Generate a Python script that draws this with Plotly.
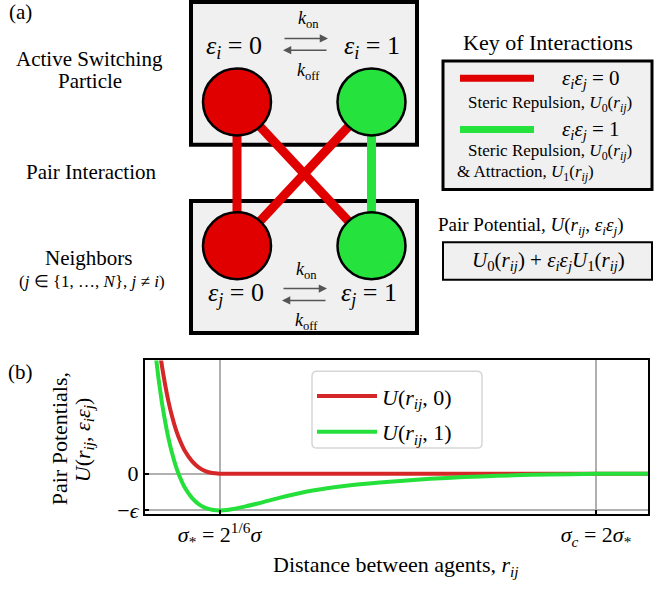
import plotly.graph_objects as go

# ---------------- data ----------------
# r in units of sigma; sigma_* = 2^(1/6) sigma, sigma_c = 2 sigma_*
sig_star = 1.1225
sig_c = 2.245
x_range = [0.9, 2.4]
y_range = [-1.1, 3.08]

r_red = [0.93, 0.94, 0.95, 0.96, 0.97, 0.98, 0.99, 1.00, 1.02, 1.04, 1.06, 1.08, 1.10, 1.1225, 1.3, 1.6, 2.0, 2.4]
u_red = [4.37, 3.61, 2.96, 2.42, 1.96, 1.58, 1.26, 1.00, 0.60, 0.34, 0.17, 0.068, 0.016, 0.0, 0.0, 0.0, 0.0, 0.0]

r_green = [0.93, 0.94, 0.95, 0.96, 0.97, 0.98, 0.99, 1.00, 1.02, 1.04, 1.06, 1.08, 1.10, 1.1225,
           1.15, 1.2, 1.25, 1.3, 1.4, 1.5, 1.6, 1.7, 1.8, 1.9, 2.0, 2.1, 2.245, 2.3, 2.4]
u_green = [3.37, 2.61, 1.96, 1.42, 0.96, 0.58, 0.26, 0.0, -0.40, -0.66, -0.83, -0.93, -0.98, -1.0,
           -0.98, -0.89, -0.78, -0.66, -0.46, -0.33, -0.24, -0.17, -0.115, -0.075, -0.045, -0.022, -0.005, 0.0, 0.0]

x_tickvals = [sig_star, sig_c]
x_ticktext = ["<i>σ</i><sub>*</sub> = 2<sup>1/6</sup><i>σ</i>", "<i>σ<sub>c</sub></i> = 2<i>σ</i><sub>*</sub>"]
y_tickvals = [-1, 0]
y_ticktext = ["−<i>ϵ</i>", "0"]

series_names = ["<i>U</i>(<i>r<sub>ij</sub></i>, 0)", "<i>U</i>(<i>r<sub>ij</sub></i>, 1)"]

# ---------------- styles ----------------
W, H = 659, 594
FONT = "Liberation Serif"
RED_D = "#e00000"
GREEN_D = "#26e23c"
RED_P = "#d62728"
GREEN_P = "#25e03a"
BOXFILL = "#f0f0f0"


def px(x):
    return x / W


def py(y):
    return 1 - y / H


fig = go.Figure()
fig.add_trace(go.Scatter(x=r_red, y=u_red, mode="lines", name=series_names[0],
                         line=dict(color=RED_P, width=4, shape="spline", smoothing=0.6),
                         legendgroup="a"))
fig.add_trace(go.Scatter(x=r_green, y=u_green, mode="lines", name=series_names[1],
                         line=dict(color=GREEN_P, width=4, shape="spline", smoothing=0.6),
                         legendgroup="b"))

shapes = []
annotations = []


def rect(x0, y0, x1, y1, lw, fill=BOXFILL, color="black"):
    shapes.append(dict(type="rect", xref="paper", yref="paper", x0=px(x0), x1=px(x1),
                       y0=py(y1), y1=py(y0), line=dict(color=color, width=lw), fillcolor=fill))


def seg(x0, y0, x1, y1, color, lw):
    shapes.append(dict(type="line", xref="paper", yref="paper", x0=px(x0), x1=px(x1),
                       y0=py(y0), y1=py(y1), line=dict(color=color, width=lw)))


def circ(cx, cy, r, fill):
    shapes.append(dict(type="circle", xref="paper", yref="paper", x0=px(cx - r), x1=px(cx + r),
                       y0=py(cy + r), y1=py(cy - r), line=dict(color="black", width=2.5),
                       fillcolor=fill))


def txt(x, y, s, size, xanchor="center", angle=0):
    annotations.append(dict(x=px(x), y=py(y), xref="paper", yref="paper", text=s, showarrow=False,
                            xanchor=xanchor, yanchor="middle", textangle=angle,
                            font=dict(family=FONT, size=size, color="black")))


def arrow(xh, yh, xt, yt):
    annotations.append(dict(x=px(xh), y=py(yh), xref="paper", yref="paper", ax=xt - xh, ay=yt - yh,
                            text="", showarrow=True, arrowhead=2, arrowsize=1.1, arrowwidth=1.5,
                            arrowcolor="#555555"))


# ----- panel (a) -----
rect(191, 2, 417, 147, 4)
rect(191, 204, 417, 338, 4)

cxL, cxR, cyT, cyB = 237, 371.5, 103.5, 249.5
seg(cxL, cyT, cxL, cyB, RED_D, 9)
seg(cxR, cyT, cxR, cyB, GREEN_D, 9)
seg(cxL, cyT, cxR, cyB, RED_D, 9)
seg(cxR, cyT, cxL, cyB, RED_D, 9)
circ(cxL, cyT, 34, RED_D)
circ(cxR, cyT, 34, GREEN_D)
circ(cxL, cyB, 34, RED_D)
circ(cxR, cyB, 34, GREEN_D)

txt(20, 12, "(a)", 21)
txt(90, 60, "Active Switching", 21)
txt(90, 82, "Particle", 21)
txt(91, 175, "Pair Interaction", 21)
txt(89, 262, "Neighbors", 21)
txt(92, 286, "(<i>j</i> ∈ {1, …, <i>N</i>}, <i>j</i> ≠ <i>i</i>)", 17)

txt(234, 48, "<i>ε<sub>i</sub></i> = 0", 26)
txt(372, 48, "<i>ε<sub>i</sub></i> = 1", 26)
arrow(328, 39, 283, 39)
arrow(283, 51, 328, 51)
txt(308, 20, "<i>k</i><sub>on</sub>", 18)
txt(308, 73, "<i>k</i><sub>off</sub>", 18)

txt(236, 299, "<i>ε<sub>j</sub></i> = 0", 26)
txt(369, 299, "<i>ε<sub>j</sub></i> = 1", 26)
arrow(327, 293, 282, 293)
arrow(282, 305, 327, 305)
txt(306, 275, "<i>k</i><sub>on</sub>", 18)
txt(306, 326, "<i>k</i><sub>off</sub>", 18)

txt(548, 43, "Key of Interactions", 22)
rect(443, 62, 652, 192.5, 3)
seg(460, 79.5, 534, 79.5, RED_D, 7)
seg(460, 131.5, 534, 131.5, GREEN_D, 7)
txt(591, 80, "<i>ε<sub>i</sub>ε<sub>j</sub></i> = 0", 21)
txt(550, 106, "Steric Repulsion, <i>U</i><sub>0</sub>(<i>r<sub>ij</sub></i>)", 17)
txt(591, 132, "<i>ε<sub>i</sub>ε<sub>j</sub></i> = 1", 21)
txt(550, 154, "Steric Repulsion, <i>U</i><sub>0</sub>(<i>r<sub>ij</sub></i>)", 17)
txt(455, 176, "&amp; Attraction, <i>U</i><sub>1</sub>(<i>r<sub>ij</sub></i>)", 17, xanchor="left")

txt(436, 229, "Pair Potential, <i>U</i>(<i>r<sub>ij</sub></i>, <i>ε<sub>i</sub>ε<sub>j</sub></i>)", 19, xanchor="left")
rect(443, 246, 652, 284, 2)
txt(548, 265, "<i>U</i><sub>0</sub>(<i>r<sub>ij</sub></i>) + <i>ε<sub>i</sub>ε<sub>j</sub>U</i><sub>1</sub>(<i>r<sub>ij</sub></i>)", 21)

# ----- panel (b) -----
txt(20, 378, "(b)", 21)
txt(59, 446, "Pair Potentials,", 22, angle=-90)
txt(84, 447, "<i>U</i>(<i>r<sub>ij</sub></i>, <i>ε<sub>i</sub>ε<sub>j</sub></i>)", 22, angle=-90)
txt(396, 575, "Distance between agents, <i>r<sub>ij</sub></i>", 22)

# legend frame (rounded)
lx0, ly0, lx1, ly1, rr = 312, 377, 482, 455, 5
path = (f"M {px(lx0 + rr)},{py(ly0)} L {px(lx1 - rr)},{py(ly0)} Q {px(lx1)},{py(ly0)} {px(lx1)},{py(ly0 + rr)} "
        f"L {px(lx1)},{py(ly1 - rr)} Q {px(lx1)},{py(ly1)} {px(lx1 - rr)},{py(ly1)} "
        f"L {px(lx0 + rr)},{py(ly1)} Q {px(lx0)},{py(ly1)} {px(lx0)},{py(ly1 - rr)} "
        f"L {px(lx0)},{py(ly0 + rr)} Q {px(lx0)},{py(ly0)} {px(lx0 + rr)},{py(ly0)} Z")
shapes.append(dict(type="path", xref="paper", yref="paper", path=path,
                   line=dict(color="#d6d6d6", width=1.5), fillcolor="rgba(255,255,255,0.85)"))

axis_common = dict(showline=True, linecolor="black", linewidth=2, mirror=True,
                   ticks="inside", ticklen=4, tickwidth=2, tickcolor="black",
                   showgrid=True, gridcolor="#b0b0b0", gridwidth=1.5, zeroline=False,
                   tickfont=dict(family=FONT, size=22, color="black"))

fig.update_layout(
    width=W, height=H, margin=dict(l=0, r=0, t=0, b=0),
    paper_bgcolor="white", plot_bgcolor="white",
    font=dict(family=FONT, color="black"),
    xaxis=dict(domain=[px(145), px(648)], range=x_range, tickvals=x_tickvals, ticktext=x_ticktext,
               **axis_common),
    yaxis=dict(domain=[py(522), py(366)], range=y_range, tickvals=y_tickvals, ticktext=y_ticktext,
               **axis_common),
    legend=dict(x=px(312), y=py(381), xanchor="left", yanchor="top", bgcolor="rgba(0,0,0,0)",
                borderwidth=0, font=dict(family=FONT, size=22, color="black"),
                traceorder="grouped", tracegroupgap=4, itemwidth=60),
    shapes=shapes, annotations=annotations, showlegend=True,
)

# re-assert the serif family on every text node once the plot has been drawn
post_js = """
(function(){
  function fix(){
    document.querySelectorAll('svg text, svg tspan').forEach(function(t){
      t.style.setProperty('font-family', "'Liberation Serif', 'Times New Roman', serif", 'important');
    });
  }
  fix(); setTimeout(fix, 30); setTimeout(fix, 150); setTimeout(fix, 400);
})();
"""
fig.write_html("out.html", post_script=post_js)
